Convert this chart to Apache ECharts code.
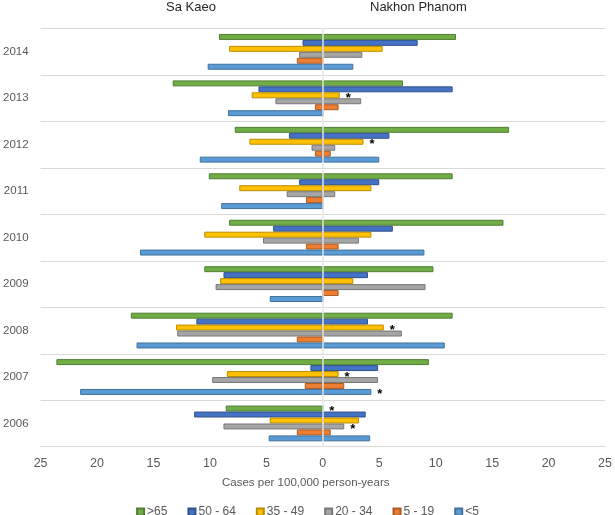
<!DOCTYPE html>
<html>
<head>
<meta charset="utf-8">
<script src="https://cdn.jsdelivr.net/npm/echarts@6/dist/echarts.min.js"></script>
<style>html,body{margin:0;padding:0;background:#fff}#c{width:615px;height:515px}</style>
</head>
<body>
<div id="c"></div>
<script>
var years = ['2006','2007','2008','2009','2010','2011','2012','2013','2014'];
var groups = ['>65','50 - 64','35 - 49','20 - 34','5 - 19','<5'];
var xTicks = [-25,-20,-15,-10,-5,0,5,10,15,20,25];

// Sa Kaeo (plotted to the left), per year 2006..2014
var saKaeo65   = [8.6, 23.6, 17.0, 10.5, 8.3, 10.1, 7.8, 13.3, 9.2];
var saKaeo5064 = [11.4, 1.1, 11.2, 8.8, 4.4, 2.1, 3.0, 5.7, 1.8];
var saKaeo3549 = [4.7, 8.5, 13.0, 9.1, 10.5, 7.4, 6.5, 6.3, 8.3];
var saKaeo2034 = [8.8, 9.8, 12.9, 9.5, 5.3, 3.2, 1.0, 4.2, 2.1];
var saKaeo519  = [2.3, 1.6, 2.3, 0, 1.5, 1.5, 0.7, 0.7, 2.3];
var saKaeoU5   = [4.8, 21.5, 16.5, 4.7, 16.2, 9.0, 10.9, 8.4, 10.2];

// Nakhon Phanom (plotted to the right)
var nakhon65   = [0, 9.4, 11.5, 9.8, 16.0, 11.5, 16.5, 7.1, 11.8];
var nakhon5064 = [3.8, 4.9, 4.0, 4.0, 6.2, 5.0, 5.9, 11.5, 8.4];
var nakhon3549 = [3.2, 1.4, 5.4, 2.7, 4.3, 4.3, 3.6, 1.5, 5.3];
var nakhon2034 = [1.9, 4.9, 7.0, 9.1, 3.2, 1.1, 1.1, 3.4, 3.5];
var nakhon519  = [0.7, 1.9, 0, 1.4, 1.4, 0, 0.7, 1.4, 0];
var nakhonU5   = [4.2, 4.3, 10.8, 0, 9.0, 0, 5.0, 0, 2.7];

// significance markers (*) on Nakhon Phanom bars
var star65   = [1,0,0,0,0,0,0,0,0];
var star5064 = [0,0,0,0,0,0,0,0,0];
var star3549 = [0,1,1,0,0,0,1,1,0];
var star2034 = [1,0,0,0,0,0,0,0,0];
var star519  = [0,0,0,0,0,0,0,0,0];
var starU5   = [0,1,0,0,0,0,0,0,0];

var colors  = ['#70AD47','#4472C4','#FFC000','#A5A5A5','#ED7D31','#5B9BD5'];
var borders = ['#507E32','#2F528F','#BC8C00','#787878','#AE5A21','#41719C'];

var sk = [saKaeo65, saKaeo5064, saKaeo3549, saKaeo2034, saKaeo519, saKaeoU5];
var nk = [nakhon65, nakhon5064, nakhon3549, nakhon2034, nakhon519, nakhonU5];
var st = [star65, star5064, star3549, star2034, star519, starU5];

var series = [];
groups.forEach(function (name, g) {
  var style = {color: colors[g], borderColor: borders[g], borderWidth: 1};
  series.push({
    name: name, type: 'bar', stack: 'g' + g, stackStrategy: 'negative',
    barGap: '0%', barCategoryGap: '23%',
    itemStyle: style,
    data: sk[g].map(function (v) { return -v; })
  });
  series.push({
    name: name, type: 'bar', stack: 'g' + g, stackStrategy: 'positive',
    barGap: '0%', barCategoryGap: '23%',
    itemStyle: style,
    data: nk[g].map(function (v, i) {
      return st[g][i] ? {value: v, label: {show: true}} : v;
    }),
    label: {
      show: false, position: 'right', distance: 6, formatter: '*',
      color: '#000', fontSize: 13, fontWeight: 'bold', offset: [0, 3],
      fontFamily: 'Liberation Sans'
    }
  });
});

var chart = echarts.init(document.getElementById('c'), null, {renderer: 'canvas'});
chart.setOption({
  animation: false,
  textStyle: {fontFamily: 'Liberation Sans'},
  grid: {left: 38, right: 9, top: 28.6, bottom: 68.3, containLabel: false},
  xAxis: {
    type: 'value', min: xTicks[0], max: xTicks[xTicks.length - 1], interval: 5,
    axisLine: {show: true, lineStyle: {color: '#D9D9D9'}},
    axisTick: {show: false},
    splitLine: {show: false},
    axisLabel: {
      color: '#595959', fontSize: 12.5, margin: 10,
      formatter: function (v) { return String(Math.abs(v)); }
    }
  },
  yAxis: {
    type: 'category', data: years, z: 10,
    axisLine: {show: true, onZero: true, lineStyle: {color: '#E6E6E6', width: 1.5}},
    axisTick: {show: false},
    axisLabel: {color: '#595959', fontSize: 11.5, margin: 12},
    splitLine: {show: true, lineStyle: {color: '#D9D9D9', width: 1}}
  },
  legend: {
    data: groups, top: 501, left: 'center',
    itemWidth: 7, itemHeight: 7, itemGap: 20,
    icon: 'rect',
    textStyle: {color: '#595959', fontSize: 12, padding: [0, 0, 0, -2]}
  },
  graphic: [
    {type: 'text', left: 222, top: 477,
      style: {text: 'Cases per 100,000 person-years', fill: '#595959',
        font: '11.5px "Liberation Sans"'}},
    {type: 'text', left: 166, top: 1,
      style: {text: 'Sa Kaeo', fill: '#262626', font: '13px "Liberation Sans"'}},
    {type: 'text', left: 370, top: 1,
      style: {text: 'Nakhon Phanom', fill: '#262626', font: '13px "Liberation Sans"'}}
  ],
  series: series
});
</script>
</body>
</html>
